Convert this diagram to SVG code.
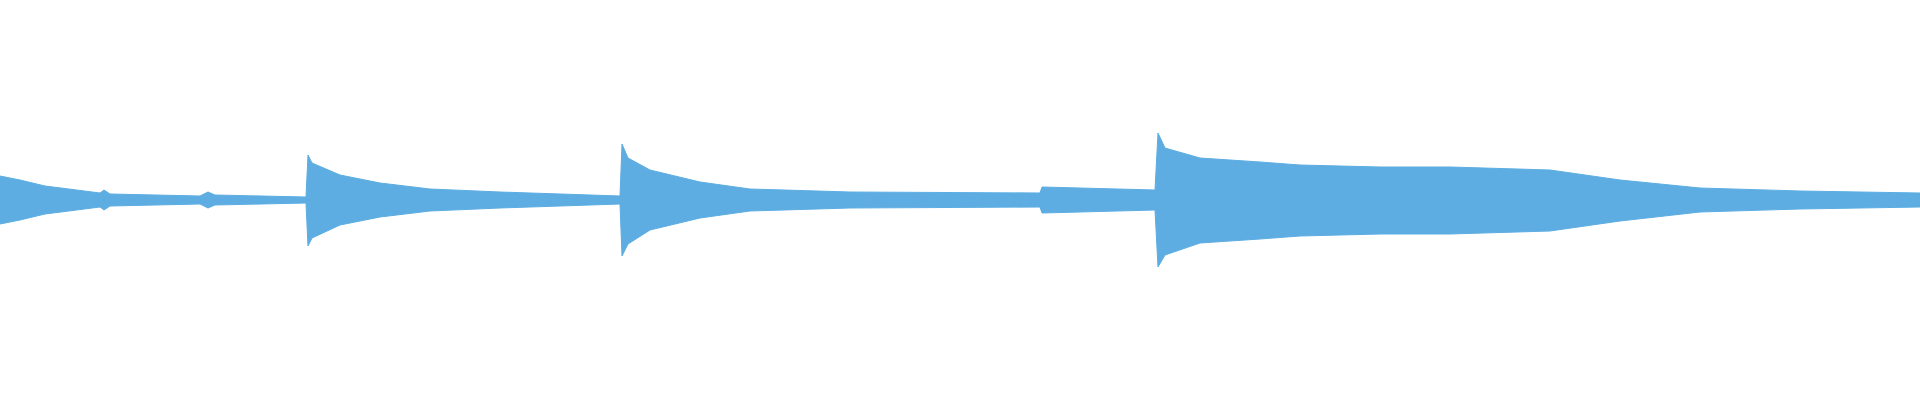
<svg xmlns="http://www.w3.org/2000/svg" width="1920" height="400" viewBox="0 0 1920 400">
<style>.w{fill:#5dade2;stroke:#5dade2;stroke-width:1}</style>
<rect width="1920" height="400" fill="#ffffff"/>
<path class="w" d="M0,176 L20,180 L45,186 L100,193 L104,190 L110,194 L200,196 L208,192 L215,195 L306,197 L308,155 L312,163 L340,175 L380,183 L430,189 L500,192 L620,196 L622,144 L628,158 L650,170 L700,182 L750,189 L850,192 L1040,193 L1042,187 L1155,190 L1158,133 L1165,148 L1200,158 L1260,162 L1300,165 L1380,167 L1450,167 L1550,170 L1620,180 L1700,188 L1800,191 L1920,193 L1920,207 L1800,209 L1700,212 L1620,221 L1550,231 L1450,234 L1380,234 L1300,236 L1260,239 L1200,243 L1165,255 L1158,267 L1155,210 L1042,213 L1040,207 L850,208 L750,211 L700,218 L650,230 L628,244 L622,256 L620,204 L500,208 L430,211 L380,217 L340,225 L312,238 L308,246 L306,203 L215,205 L208,208 L200,204 L110,206 L104,210 L100,207 L45,214 L20,220 L0,224 Z"/>
</svg>
